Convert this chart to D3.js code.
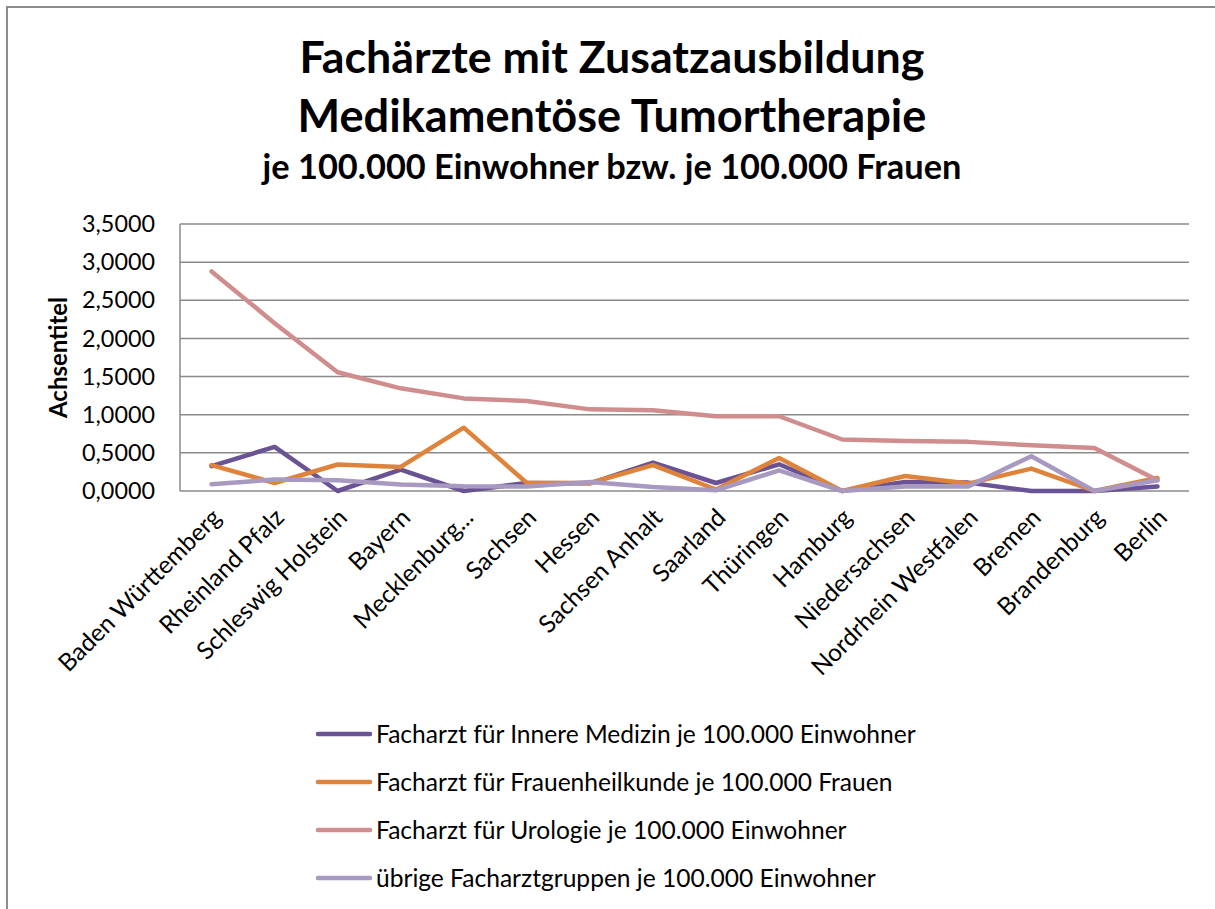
<!DOCTYPE html>
<html>
<head>
<meta charset="utf-8">
<script src="https://cdn.jsdelivr.net/npm/d3@7"></script>
<style>
  body { margin: 0; background: #fff; }
  text { font-family: Lato, "Open Sans", sans-serif; fill: #000; }
</style>
</head>
<body>
<div id="chart"></div>
<script>
// Data
var states = ["Baden Württemberg", "Rheinland Pfalz", "Schleswig Holstein", "Bayern",
  "Mecklenburg Vorpommern", "Sachsen", "Hessen", "Sachsen Anhalt", "Saarland", "Thüringen",
  "Hamburg", "Niedersachsen", "Nordrhein Westfalen", "Bremen", "Brandenburg", "Berlin"];
var stateLabels = ["Baden Württemberg", "Rheinland Pfalz", "Schleswig Holstein", "Bayern",
  "Mecklenburg...", "Sachsen", "Hessen", "Sachsen Anhalt", "Saarland", "Thüringen",
  "Hamburg", "Niedersachsen", "Nordrhein Westfalen", "Bremen", "Brandenburg", "Berlin"];

var innereMedizin = [0.325, 0.578, 0, 0.28, 0, 0.105, 0.10, 0.373, 0.105, 0.35, 0, 0.118, 0.11, 0, 0, 0.06];
var frauenheilkunde = [0.34, 0.105, 0.347, 0.316, 0.83, 0.105, 0.105, 0.34, 0.02, 0.434, 0, 0.197, 0.097, 0.294, 0, 0.17];
var urologie = [2.878, 2.20, 1.556, 1.346, 1.214, 1.18, 1.07, 1.06, 0.98, 0.98, 0.675, 0.657, 0.644, 0.60, 0.565, 0.14];
var uebrige = [0.088, 0.15, 0.14, 0.084, 0.062, 0.06, 0.118, 0.053, 0.01, 0.27, 0, 0.06, 0.06, 0.456, 0, 0.14];

var seriesNames = ["Facharzt für Innere Medizin je 100.000 Einwohner",
  "Facharzt für Frauenheilkunde je 100.000 Frauen",
  "Facharzt für Urologie je 100.000 Einwohner",
  "übrige Facharztgruppen je 100.000 Einwohner"];
var seriesColors = ["#6a5394", "#e0833a", "#d08d8d", "#a899c0"];
var yTicks = [0, 0.5, 1, 1.5, 2, 2.5, 3, 3.5];

var titleLines = ["Fachärzte mit Zusatzausbildung", "Medikamentöse Tumortherapie"];
var subTitle = "je 100.000 Einwohner bzw. je 100.000 Frauen";

var allSeries = [innereMedizin, frauenheilkunde, urologie, uebrige];

var svgWidth = 1215;
var svgHeight = 909;
var plot = { left: 180, right: 1189, top: 224, bottom: 491 };

var svg = d3.select("#chart")
  .append("svg")
  .attr("width", svgWidth)
  .attr("height", svgHeight);

// scale a text to a target width (font metrics differ from the original)
function fit(sel, w) {
  var len = sel.node().getComputedTextLength();
  var fs = parseFloat(sel.attr("font-size"));
  var nfs = fs * w / len;
  sel.attr("font-size", nfs);
  return nfs;
}

// chart frame (only top and left visible)
svg.append("path")
  .attr("d", "M7,909 L7,7 L1215,7")
  .attr("fill", "none")
  .attr("stroke", "#8c8c8c")
  .attr("stroke-width", 2);

// titles
var t1 = svg.append("text").attr("x", 612).attr("y", 73).attr("text-anchor", "middle")
  .attr("font-weight", "bold").attr("font-size", 46).text(titleLines[0]);
fit(t1, 625);
var t2 = svg.append("text").attr("x", 612).attr("y", 132).attr("text-anchor", "middle")
  .attr("font-weight", "bold").attr("font-size", 46).text(titleLines[1]);
fit(t2, 629);
var t3 = svg.append("text").attr("x", 612).attr("y", 179).attr("text-anchor", "middle")
  .attr("font-weight", "bold").attr("font-size", 32).text(subTitle);
fit(t3, 699);

// scales
var x = d3.scalePoint()
  .domain(states)
  .range([plot.left, plot.right])
  .padding(0.5);

var y = d3.scaleLinear()
  .domain([0, 3.5])
  .range([plot.bottom, plot.top]);

var fmt = function(d) { return d3.format(".4f")(d).replace(".", ","); };

// gridlines
svg.append("g")
  .selectAll("line")
  .data(yTicks)
  .enter()
  .append("line")
  .attr("x1", plot.left)
  .attr("x2", plot.right)
  .attr("y1", d => y(d))
  .attr("y2", d => y(d))
  .attr("stroke", "#8a8a8a")
  .attr("stroke-width", 1.5);

// left axis line
svg.append("line")
  .attr("x1", plot.left).attr("x2", plot.left)
  .attr("y1", plot.top).attr("y2", plot.bottom)
  .attr("stroke", "#8a8a8a")
  .attr("stroke-width", 1.5);

// y labels
var tickSize = 24;
var probe = svg.append("text").attr("font-size", tickSize).text("3,5000");
tickSize = fit(probe, 73);
probe.remove();

svg.append("g")
  .selectAll("text")
  .data(yTicks)
  .enter()
  .append("text")
  .attr("x", 155)
  .attr("y", d => y(d))
  .attr("dy", "0.35em")
  .attr("text-anchor", "end")
  .attr("font-size", tickSize)
  .text(fmt);

// y axis title
var yt = svg.append("text")
  .attr("transform", "translate(67," + ((plot.top + plot.bottom) / 2) + ") rotate(-90)")
  .attr("text-anchor", "middle")
  .attr("font-weight", "bold")
  .attr("font-size", 24)
  .text("Achsentitel");
fit(yt, 121);

// x labels
var xSize = 24;
var probe2 = svg.append("text").attr("font-size", xSize).text(stateLabels[0]);
xSize = fit(probe2, 218);
probe2.remove();

svg.append("g")
  .selectAll("text")
  .data(states)
  .enter()
  .append("text")
  .attr("transform", d => "translate(" + (x(d) + 5) + ",513) rotate(-45)")
  .attr("text-anchor", "end")
  .attr("dy", "0.35em")
  .attr("font-size", xSize)
  .text((d, i) => stateLabels[i]);

// lines
var line = d3.line()
  .x((d, i) => x(states[i]))
  .y(d => y(d));

svg.append("g")
  .selectAll("path")
  .data(allSeries)
  .enter()
  .append("path")
  .attr("d", line)
  .attr("fill", "none")
  .attr("stroke", (d, i) => seriesColors[i])
  .attr("stroke-width", 4.5)
  .attr("stroke-linejoin", "round")
  .attr("stroke-linecap", "round");

// legend
var legend = svg.append("g");
var legendY = d3.scalePoint().domain(d3.range(4)).range([734, 878]);

var items = legend.selectAll("g")
  .data(seriesNames)
  .enter()
  .append("g")
  .attr("transform", (d, i) => "translate(0," + legendY(i) + ")");

items.append("line")
  .attr("x1", 318).attr("x2", 370)
  .attr("stroke", (d, i) => seriesColors[i])
  .attr("stroke-width", 4.5)
  .attr("stroke-linecap", "round");

var legSize = 24;
var probe3 = svg.append("text").attr("font-size", legSize).text(seriesNames[0]);
legSize = fit(probe3, 540);
probe3.remove();

items.append("text")
  .attr("x", 376)
  .attr("dy", "0.35em")
  .attr("font-size", legSize)
  .text(d => d);
</script>
</body>
</html>
